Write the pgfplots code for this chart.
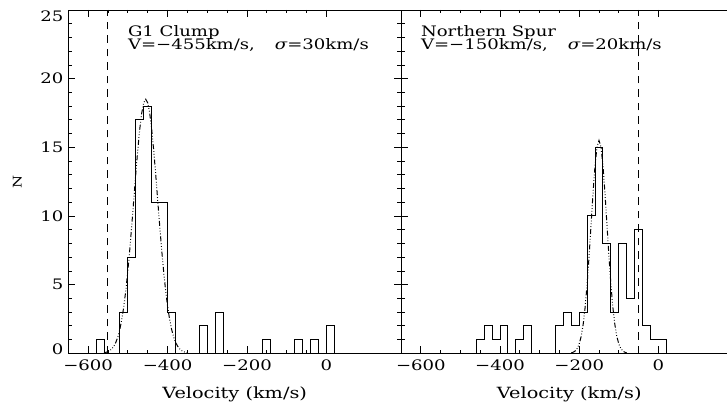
\documentclass[border=0pt]{standalone}
\usepackage{fontspec}
\setmainfont{DejaVu Serif}[FakeStretch=1.25]
\usepackage{pgfplots}
\pgfplotsset{compat=1.18}

\pgfplotsset{
  velpanel/.style={
    scale only axis, height=343.3bp,
    ymin=0, ymax=25, xmin=-650,
    xtick={-600,-400,-200,0}, xticklabels={−600,−400,−200,0},
    ytick={0,5,10,15,20,25},
    minor x tick num=3, minor y tick num=4,
    tick align=inside, major tick length=7bp, minor tick length=3.5bp,
    tick style={black, line width=0.8bp},
    axis line style={line width=0.9bp},
    tick label style={font=\fontsize{14.5}{15}\selectfont},
    xticklabel shift=2.5bp, yticklabel shift=1.5bp,
    xlabel={Velocity (km/s)},
    xlabel style={at={(axis description cs:0.5,0)}, anchor=base,
      yshift=-44.7bp, font=\fontsize{15.5}{16}\selectfont},
  },
  hist/.style={const plot mark left, black, line width=1bp},
  gauss/.style={black, line width=1bp,
    dash pattern=on 5bp off 2bp on 0.8bp off 2bp on 0.8bp off 2bp on 0.8bp off 2bp},
  vline/.style={black, line width=1.1bp, dash pattern=on 7.5bp off 6bp},
}
\tikzset{note/.style={anchor=base west, inner sep=0pt, font=\fontsize{14.5}{14}\selectfont}}

\begin{document}
\begin{tikzpicture}

% G1 clump
\begin{axis}[velpanel, at={(68.3bp,51.7bp)}, anchor=south west,
  width=332.7bp, xmax=188,
  yticklabels={\raisebox{4bp}[\height][\depth]{0},5,10,15,20,\raisebox{-6bp}[\height][\depth]{25}},
  ylabel={N},
  ylabel style={at={(axis description cs:0,0.5)}, anchor=center,
    yshift=51bp, font=\fontsize{12}{12}\selectfont},
]
\addplot[hist] coordinates {
  (-580,0) (-580,1) (-560,0) (-540,0) (-520,3) (-500,7) (-480,17) (-460,18)
  (-440,11) (-420,11) (-400,3) (-380,0) (-360,0) (-340,0) (-320,2) (-300,0)
  (-280,3) (-260,0) (-240,0) (-220,0) (-200,0) (-180,0) (-160,1) (-140,0)
  (-120,0) (-100,0) (-80,1) (-60,0) (-40,1) (-20,0) (0,2) (20,0)
};
\addplot[gauss] coordinates {
  (-560,0.040) (-555,0.072) (-550,0.123) (-545,0.206) (-540,0.334) (-535,0.528)
  (-530,0.813) (-525,1.216) (-520,1.770) (-515,2.504) (-510,3.446) (-505,4.613)
  (-500,6.006) (-495,7.606) (-490,9.367) (-485,11.221) (-480,13.073) (-475,14.814)
  (-470,16.326) (-465,17.500) (-460,18.245) (-455,18.5) (-450,18.245) (-445,17.500)
  (-440,16.326) (-435,14.814) (-430,13.073) (-425,11.221) (-420,9.367) (-415,7.606)
  (-410,6.006) (-405,4.613) (-400,3.446) (-395,2.504) (-390,1.770) (-385,1.216)
  (-380,0.813) (-375,0.528) (-370,0.334) (-365,0.206) (-360,0.123) (-355,0.072)
  (-350,0.040)
};
\addplot[vline] coordinates {(-552,0) (-552,25)};
\node[note] at (axis cs:-500,23.05) {G1 Clump};
\node[note] at (axis cs:-500,22.09) {V=−455km/s,\hspace{20bp}{\itshape σ}=30km/s};
\end{axis}

% Northern spur
\begin{axis}[velpanel, at={(401bp,51.7bp)}, anchor=south west,
  width=336.6bp, xmax=200,
  yticklabels={},
]
\addplot[hist] coordinates {
  (-460,0) (-460,1) (-440,2) (-420,1) (-400,2) (-380,0) (-360,1) (-340,2)
  (-320,0) (-300,0) (-280,0) (-260,2) (-240,3) (-220,2) (-200,3) (-180,10)
  (-160,15) (-140,8) (-120,3) (-100,8) (-80,4) (-60,9) (-40,2) (-20,1)
  (0,1) (20,0)
};
\addplot[gauss] coordinates {
  (-220,0.034) (-215,0.079) (-210,0.172) (-205,0.353) (-200,0.681) (-195,1.233)
  (-190,2.098) (-185,3.352) (-180,5.032) (-175,7.096) (-170,9.401) (-165,11.700)
  (-160,13.679) (-155,15.023) (-150,15.5) (-145,15.023) (-140,13.679) (-135,11.700)
  (-130,9.401) (-125,7.096) (-120,5.032) (-115,3.352) (-110,2.098) (-105,1.233)
  (-100,0.681) (-95,0.353) (-90,0.172) (-85,0.079) (-80,0.034)
};
\addplot[vline] coordinates {(-50,0) (-50,25)};
\node[note] at (axis cs:-600,23.05) {Northern Spur};
\node[note] at (axis cs:-600,22.09) {V=−150km/s,\hspace{20bp}{\itshape σ}=20km/s};
\end{axis}

\pgfresetboundingbox
\path[use as bounding box] (0,0) rectangle (727bp,405bp);
\end{tikzpicture}
\end{document}
